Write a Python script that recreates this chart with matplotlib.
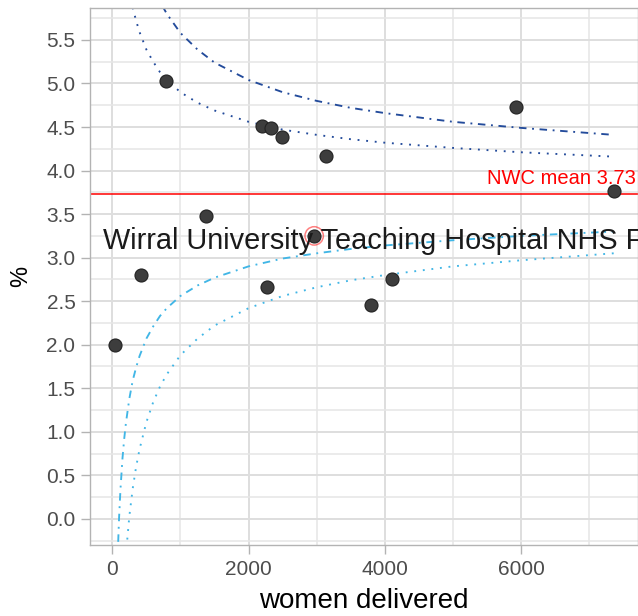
import matplotlib.pyplot as plt
import matplotlib.transforms as mtransforms

plt.rcParams['font.family'] = ['Liberation Sans', 'DejaVu Sans']

# Trusts: women delivered vs. rate (%)
women_delivered = [40, 421, 787, 1370, 2190, 2327, 2493, 2264, 2962, 3133, 3789, 4111, 5920, 7356]
rate_pct = [2.00, 2.80, 5.03, 3.48, 4.51, 4.49, 4.38, 2.66, 3.25, 4.17, 2.46, 2.75, 4.73, 3.76]
highlight_idx = 8
highlight_label = 'Wirral University Teaching Hospital NHS Foundation Trust'

nwc_mean = 3.73

# Funnel limits
limit_n = [60, 70, 80, 90, 100, 120, 150, 175, 200, 250,
           300, 350, 400, 500, 600, 700, 800, 1000, 1250, 1500,
           2000, 2500, 3000, 3500, 4000, 5000, 6000, 7356]
upper_95 = [8.53, 8.17, 7.88, 7.65, 7.44, 7.12, 6.76, 6.54, 6.36, 6.08,
            5.87, 5.72, 5.59, 5.39, 5.25, 5.13, 5.04, 4.90, 4.78, 4.69,
            4.56, 4.47, 4.41, 4.36, 4.32, 4.26, 4.21, 4.16]
lower_95 = [-1.06, -0.71, -0.42, -0.19, 0.02, 0.34, 0.70, 0.92, 1.10, 1.38,
            1.59, 1.74, 1.87, 2.07, 2.21, 2.33, 2.42, 2.56, 2.68, 2.77,
            2.90, 2.99, 3.05, 3.10, 3.14, 3.20, 3.25, 3.30]
upper_998 = [11.29, 10.73, 10.28, 9.90, 9.59, 9.08, 8.51, 8.16, 7.87, 7.43,
             7.11, 6.86, 6.66, 6.35, 6.12, 5.94, 5.80, 5.58, 5.39, 5.24,
             5.04, 4.90, 4.80, 4.72, 4.66, 4.56, 4.49, 4.41]
lower_998 = [-3.83, -3.27, -2.82, -2.44, -2.13, -1.62, -1.05, -0.70, -0.41, 0.03,
             0.35, 0.60, 0.80, 1.11, 1.34, 1.52, 1.66, 1.88, 2.07, 2.22,
             2.42, 2.56, 2.66, 2.74, 2.80, 2.90, 2.97, 3.05]

x_ticks = [0, 2000, 4000, 6000]
y_ticks = [0.0, 0.5, 1.0, 1.5, 2.0, 2.5, 3.0, 3.5, 4.0, 4.5, 5.0, 5.5]

dark_blue = '#234b9b'
light_blue = '#41b6e6'
dotted = (1.0, 3.6)
dotdash = (1.0, 3.0, 4.0, 3.0)

fig = plt.figure(figsize=(6.38, 6.16), dpi=100)
ax = fig.add_axes([90 / 638, 71 / 616, 548 / 638, 537 / 616])

# Funnel lines
ax.plot(limit_n, upper_95, color=dark_blue, lw=1.35, dashes=dotted, zorder=2)
ax.plot(limit_n, upper_998, color=dark_blue, lw=1.35, dashes=dotdash, zorder=2)
ax.plot(limit_n, lower_95, color=light_blue, lw=1.35, dashes=dotdash, zorder=2)
ax.plot(limit_n, lower_998, color=light_blue, lw=1.35, dashes=dotted, zorder=2)

# Mean line
ax.axhline(nwc_mean, color='#ff0000', lw=1.1, zorder=2)
trans = mtransforms.blended_transform_factory(ax.transAxes, ax.transData)
ax.annotate(f'NWC mean {nwc_mean}', xy=(1.0, nwc_mean), xycoords=trans,
            xytext=(-1.5, 7.5), textcoords='offset points',
            ha='right', va='baseline', color='#ff0000', fontsize=14.5)

# Points
ax.scatter(women_delivered, rate_pct, s=88, facecolor='#3d3d3d',
           edgecolor='#222222', linewidth=0.8, zorder=4)
hx, hy = women_delivered[highlight_idx], rate_pct[highlight_idx]
ax.scatter([hx], [hy], s=175, facecolors='none', edgecolors='#ff0000',
           linewidth=1.1, alpha=0.5, zorder=5)
ax.annotate(highlight_label, xy=(hx, hy), xytext=(-152, -9.5),
            textcoords='offset points', ha='left', va='baseline',
            fontsize=20.8, color='#1a1a1a', zorder=6, annotation_clip=False)

# Axes styling (light theme)
ax.set_xlim(-327, 7713)
ax.set_ylim(-0.30, 5.867)
ax.set_xticks(x_ticks)
ax.set_xticks([1000, 3000, 5000, 7000], minor=True)
ax.set_yticks(y_ticks)
ax.set_yticks([v + 0.25 for v in [-0.5] + y_ticks], minor=True)
ax.set_yticklabels([f'{v:.1f}' for v in y_ticks])
ax.grid(True, which='major', color='#dedede', lw=1.4)
ax.grid(True, which='minor', color='#e6e6e6', lw=1.1)
ax.set_axisbelow(True)
for side in ['left', 'top', 'bottom', 'right']:
    ax.spines[side].set_color('#b3b3b3')
    ax.spines[side].set_linewidth(1.0)
ax.tick_params(which='major', length=6.5, width=1.0, color='#b3b3b3',
               labelcolor='#4d4d4d', labelsize=15, pad=4)
ax.tick_params(which='minor', length=0)

ax.set_xlabel('women delivered', fontsize=20, color='black', labelpad=7)
ax.set_ylabel('%', fontsize=17, color='black', labelpad=10)

fig.savefig('out.png', dpi=100)
